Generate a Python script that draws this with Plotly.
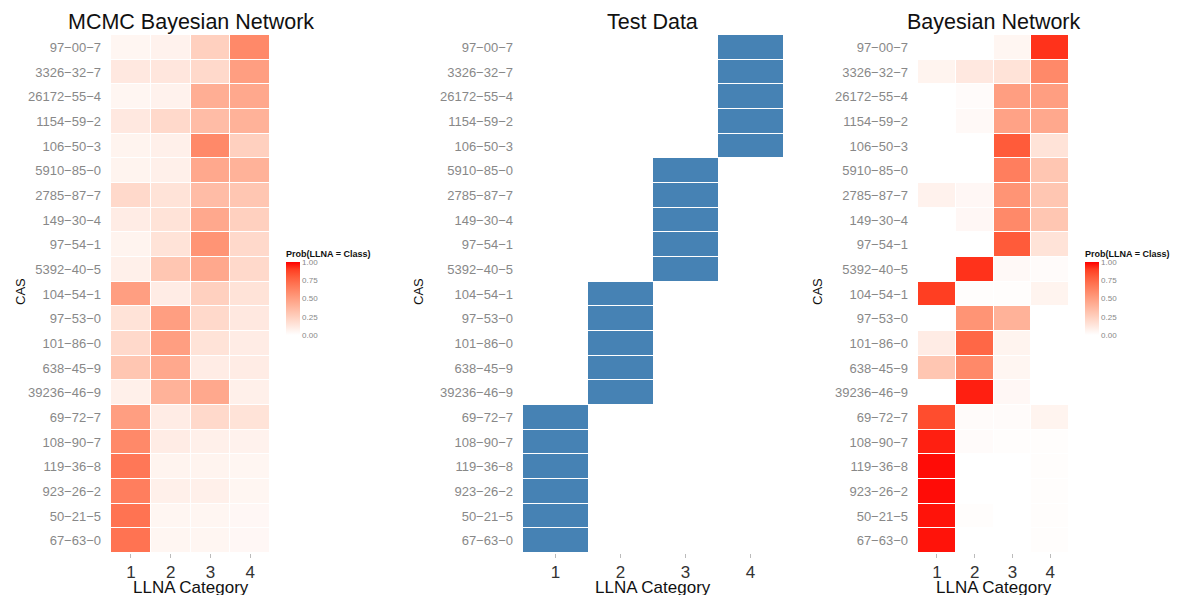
import plotly.graph_objects as go
import numpy as np

cas = ["97-00-7", "3326-32-7", "26172-55-4", "1154-59-2", "106-50-3",
       "5910-85-0", "2785-87-7", "149-30-4", "97-54-1", "5392-40-5",
       "104-54-1", "97-53-0", "101-86-0", "638-45-9", "39236-46-9",
       "69-72-7", "108-90-7", "119-36-8", "923-26-2", "50-21-5", "67-63-0"]
categories = [1, 2, 3, 4]

mcmc = [
    [0.05, 0.07, 0.25, 0.60],
    [0.12, 0.13, 0.20, 0.50],
    [0.05, 0.07, 0.42, 0.45],
    [0.12, 0.20, 0.35, 0.40],
    [0.06, 0.08, 0.60, 0.25],
    [0.06, 0.08, 0.45, 0.40],
    [0.20, 0.15, 0.35, 0.30],
    [0.10, 0.15, 0.45, 0.25],
    [0.06, 0.15, 0.55, 0.20],
    [0.08, 0.30, 0.45, 0.20],
    [0.50, 0.10, 0.25, 0.15],
    [0.15, 0.50, 0.20, 0.12],
    [0.20, 0.50, 0.15, 0.10],
    [0.30, 0.45, 0.10, 0.10],
    [0.08, 0.40, 0.45, 0.08],
    [0.50, 0.10, 0.20, 0.15],
    [0.60, 0.10, 0.08, 0.07],
    [0.68, 0.06, 0.06, 0.05],
    [0.65, 0.08, 0.08, 0.05],
    [0.70, 0.05, 0.05, 0.04],
    [0.70, 0.05, 0.05, 0.04],
]

test_class = [4, 4, 4, 4, 4, 3, 3, 3, 3, 3, 2, 2, 2, 2, 2, 1, 1, 1, 1, 1, 1]

bn = [
    [0.00, 0.00, 0.05, 0.92],
    [0.06, 0.12, 0.15, 0.60],
    [0.00, 0.02, 0.50, 0.50],
    [0.00, 0.03, 0.48, 0.45],
    [0.00, 0.00, 0.80, 0.15],
    [0.00, 0.00, 0.65, 0.30],
    [0.07, 0.04, 0.55, 0.30],
    [0.00, 0.04, 0.60, 0.30],
    [0.00, 0.00, 0.80, 0.15],
    [0.00, 0.92, 0.03, 0.02],
    [0.90, 0.01, 0.01, 0.06],
    [0.00, 0.55, 0.40, 0.00],
    [0.10, 0.75, 0.06, 0.00],
    [0.30, 0.60, 0.05, 0.00],
    [0.00, 0.95, 0.04, 0.00],
    [0.85, 0.02, 0.02, 0.06],
    [0.95, 0.02, 0.01, 0.01],
    [0.98, 0.00, 0.00, 0.01],
    [0.98, 0.00, 0.00, 0.01],
    [0.97, 0.01, 0.00, 0.01],
    [0.97, 0.00, 0.00, 0.01],
]


# white -> red gradient interpolated in Lab (like ggplot2)
def _lab_to_rgb(L, a, b):
    fy = (L + 16) / 116
    fx = fy + a / 500
    fz = fy - b / 200
    def finv(t):
        return t ** 3 if t ** 3 > 0.008856 else (t - 16 / 116) / 7.787
    X, Y, Z = 0.95047 * finv(fx), 1.0 * finv(fy), 1.08883 * finv(fz)
    r = 3.2406 * X - 1.5372 * Y - 0.4986 * Z
    g = -0.9689 * X + 1.8758 * Y + 0.0415 * Z
    bb = 0.0557 * X - 0.2040 * Y + 1.0570 * Z
    def gam(c):
        c = min(max(c, 0), 1)
        return 1.055 * c ** (1 / 2.4) - 0.055 if c > 0.0031308 else 12.92 * c
    return tuple(int(round(255 * gam(c))) for c in (r, g, bb))


white_lab = (100.0, 0.0, 0.0)
red_lab = (53.24, 80.09, 67.20)
reds = []
for t in np.linspace(0, 1, 11):
    lab = [w + (r - w) * t for w, r in zip(white_lab, red_lab)]
    rgb = _lab_to_rgb(*lab)
    reds.append([float(t), "rgb(%d,%d,%d)" % rgb])

W, H = 1179, 595
OFF = 8  # default page body margin of the html page
FONT = "Liberation Sans, Arial, sans-serif"


def px(x):
    return (x - OFF) / W


def py(y):
    return 1 - (y - OFF) / H


top, bottom = 35, 553
panels = [(111, 270), (523, 783), (918, 1069)]
titles = ["MCMC Bayesian Network", "Test Data", "Bayesian Network"]
cas_x = [20, 418, 817]

fig = go.Figure()

cbar_common = dict(
    lenmode="pixels", len=88, thicknessmode="pixels", thickness=14,
    yanchor="top", y=py(247), xanchor="left", outlinewidth=0,
    xpad=0, ypad=0,
    tickvals=[0, 0.25, 0.5, 0.75, 1.0],
    ticktext=["0.00", "0.25", "0.50", "0.75", "1.00"],
    tickfont=dict(size=8, color="#888888", family=FONT),
    ticks="", ticklabelposition="outside",
    title=dict(text="<b>Prob(LLNA = Class)</b>", side="top",
               font=dict(size=9, color="#111111", family=FONT)),
)

fig.add_trace(go.Heatmap(
    z=mcmc, x=categories, y=cas, colorscale=reds, zmin=0, zmax=1,
    xgap=1, ygap=1, xaxis="x", yaxis="y",
    colorbar=dict(x=px(286), **cbar_common),
))

test_z = [[1 if c == k else None for c in categories] for k in test_class]
fig.add_trace(go.Heatmap(
    z=test_z, x=categories, y=cas,
    colorscale=[[0, "#4682B4"], [1, "#4682B4"]], zmin=0, zmax=1,
    showscale=False, ygap=1, xaxis="x2", yaxis="y2",
))

fig.add_trace(go.Heatmap(
    z=bn, x=categories, y=cas, colorscale=reds, zmin=0, zmax=1,
    xgap=1, ygap=1, xaxis="x3", yaxis="y3",
    colorbar=dict(x=px(1085), **cbar_common),
))

layout = dict(
    template="none",
    width=W, height=H, margin=dict(l=0, r=0, t=0, b=0, autoexpand=False),
    paper_bgcolor="white", plot_bgcolor="white",
    font=dict(family=FONT),
    annotations=[],
)

ticktext = [c.replace("-", "\u2212") for c in cas]
for i, (x0, x1) in enumerate(panels):
    sfx = "" if i == 0 else str(i + 1)
    layout["xaxis" + sfx] = dict(
        domain=[px(x0), px(x1)], anchor="y" + sfx, automargin=False,
        range=[0.5, 4.5], tickvals=categories, ticktext=[str(c) for c in categories],
        showgrid=False, zeroline=False, showline=False,
        ticks="outside", ticklen=4, tickcolor="#bbbbbb", tickwidth=1,
        tickfont=dict(size=17, color="#333333", family=FONT),
        fixedrange=True,
    )
    layout["yaxis" + sfx] = dict(
        domain=[py(bottom), py(top)], anchor="x" + sfx, automargin=False,
        type="category", categoryorder="array", categoryarray=cas[::-1],
        tickvals=cas, ticktext=ticktext,
        showgrid=False, zeroline=False, showline=False,
        ticks="", ticklabelstandoff=9,
        tickfont=dict(size=13, color="#888888", family=FONT),
        fixedrange=True,
    )
    cx = (x0 + x1) / 2
    layout["annotations"].append(dict(
        text=titles[i], x=px(cx), y=py(22), xref="paper", yref="paper",
        xanchor="center", yanchor="middle", showarrow=False,
        font=dict(size=21.5, color="#111111", family=FONT)))
    layout["annotations"].append(dict(
        text="LLNA Category", x=px(cx), y=py(587), xref="paper", yref="paper",
        xanchor="center", yanchor="middle", showarrow=False,
        font=dict(size=17, color="#111111", family=FONT)))
    layout["annotations"].append(dict(
        text="CAS", x=px(cas_x[i]), y=py(292), xref="paper", yref="paper",
        xanchor="center", yanchor="middle", showarrow=False, textangle=-90,
        font=dict(size=13, color="#111111", family=FONT)))

fig.update_layout(**layout)
fig.write_html("out.html")
